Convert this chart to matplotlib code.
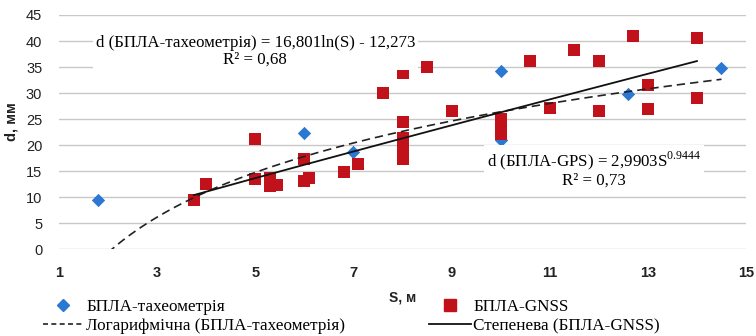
import numpy as np
import matplotlib
matplotlib.use("Agg")
import matplotlib.pyplot as plt
from matplotlib.lines import Line2D

plt.rcParams['mathtext.fontset'] = 'custom'
plt.rcParams['mathtext.rm'] = 'Liberation Serif'

# БПЛА-тахеометрія (blue diamonds)
s_tah = [1.8, 6.0, 7.0, 10.0, 10.0, 12.6, 14.5]
d_tah = [9.5, 22.3, 18.6, 34.2, 20.9, 29.9, 34.8]

# БПЛА-GNSS (red squares)
s_gnss = [3.75, 4.0, 5.0, 5.0, 5.3, 5.3, 5.45, 6.0, 6.0, 6.1, 6.8, 7.1,
          7.6, 8.0, 8.0, 8.0, 8.0, 8.0, 8.0, 8.5, 9.0,
          10.0, 10.0, 10.0, 10.0, 10.6, 11.0, 11.5, 12.0, 12.0,
          12.7, 13.0, 13.0, 14.0, 14.0]
d_gnss = [9.4, 12.5, 21.1, 13.5, 13.7, 12.1, 12.3, 17.3, 13.1, 13.6, 14.9, 16.3,
          30.0, 33.8, 24.5, 21.3, 20.0, 18.5, 17.3, 35.0, 26.6,
          25.1, 24.0, 23.0, 22.2, 36.1, 27.1, 38.3, 36.2, 26.5,
          41.0, 31.6, 26.9, 40.6, 29.1]

# trend line coefficients as printed on the chart
log_a, log_b = 16.801, -12.273
pow_a, pow_b = 2.9903, 0.9444

blue = '#2a78d2'
red = '#c1121c'
serif = 'Liberation Serif'
sans = 'Liberation Sans'

fig = plt.figure(figsize=(7.56, 3.36), dpi=100)
ax = fig.add_axes([59/756, 1-249.3/336, (746-59)/756, (249.3-15)/336])

# trend lines
xl = np.linspace(min(s_tah), max(s_tah), 300)
ax.plot(xl, log_a*np.log(xl) + log_b, color='#222222', lw=1.2, ls=(0, (5, 3)), zorder=4)
xp = np.linspace(min(s_gnss), max(s_gnss), 300)
ax.plot(xp, pow_a*xp**pow_b, color='#111111', lw=1.3, zorder=4)

ax.scatter(s_tah, d_tah, marker='D', s=46, color=blue, linewidths=0, zorder=2.5)
ax.scatter(s_gnss, d_gnss, marker='s', s=85, color=red, linewidths=0, zorder=3)

ax.set_xlim(1, 15)
ax.set_ylim(0, 45)
ax.set_xticks(range(1, 16, 2))
ax.set_yticks(range(0, 46, 5))
ax.grid(axis='y', color='#c8c8c8', lw=1)
ax.set_axisbelow(True)
for sp in ax.spines.values():
    sp.set_visible(False)
ax.tick_params(length=0, labelsize=10.5, colors='#222222')
ax.tick_params(axis='x', pad=12)
ax.tick_params(axis='y', pad=12)
for lbl in ax.get_xticklabels():
    lbl.set_fontfamily(sans)
    lbl.set_fontweight('bold')
for lbl in ax.get_yticklabels():
    lbl.set_fontfamily(sans)

fig.text(11/756, 1-122/336, 'd, мм', rotation=90, ha='center', va='center',
         fontsize=10.5, fontweight='bold', family=sans, color='#222222')
fig.text(403/756, 1-298/336, 'S, м', ha='center', va='center',
         fontsize=10, fontweight='bold', family=sans, color='#222222')

# equation labels
box = dict(facecolor='white', edgecolor='none', pad=2)
ax.text(5.0, 38.0, 'd (БПЛА-тахеометрія) = 16,801ln(S) - 12,273\nR² = 0,68',
        ha='center', va='center', fontsize=12.2, family=serif, linespacing=1.0,
        bbox=box, zorder=5)
ax.text(11.9, 15.4, 'd (БПЛА-GPS) = 2,9903S$^{0.9444}$\nR² = 0,73',
        ha='center', va='center', fontsize=12.2, family=serif, linespacing=1.0,
        bbox=box, zorder=5)

# legend
h1 = [Line2D([], [], marker='D', ls='none', color=blue, markersize=6.5),
      Line2D([], [], color='#222222', lw=1.2, ls=(0, (3, 2)))]
h2 = [Line2D([], [], marker='s', ls='none', color=red, markersize=9),
      Line2D([], [], color='#111111', lw=1.3)]
kw = dict(loc='upper left', frameon=False, prop={'family': serif, 'size': 12.3},
          borderpad=0, borderaxespad=0, labelspacing=0.2, numpoints=1)
fig.legend(h1, ['БПЛА-тахеометрія', 'Логарифмічна (БПЛА-тахеометрія)'],
           bbox_to_anchor=(43/756, 1-299/336), handlelength=2.3,
           handletextpad=0.23, **kw)
fig.legend(h2, ['БПЛА-GNSS', 'Степенева (БПЛА-GNSS)'],
           bbox_to_anchor=(429/756, 1-299/336), handlelength=2.45,
           handletextpad=0.15, **kw)

fig.savefig('out.png', dpi=100)
